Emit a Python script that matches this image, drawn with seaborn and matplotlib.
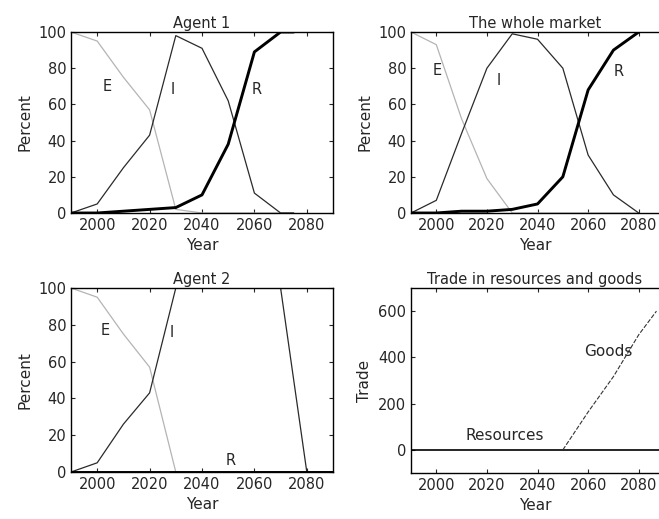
import matplotlib
matplotlib.use("Agg")
import matplotlib.pyplot as plt
import seaborn as sns
import pandas as pd

# ---------------- data ----------------
years_a1 = [1990, 2000, 2010, 2020, 2030, 2040, 2050, 2060, 2070, 2075]
a1_E = [100, 95, 75, 57, 2, 0, 0, 0, 0, 0]
a1_I = [0, 5, 25, 43, 98, 91, 62, 11, 0, 0]
a1_R = [0, 0, 1, 2, 3, 10, 38, 89, 100, 100]

years_wm = [1990, 2000, 2010, 2020, 2030, 2040, 2050, 2060, 2070, 2080]
wm_E = [100, 93, 52, 19, 0, 0, 0, 0, 0, 0]
wm_I = [0, 7, 44, 80, 99, 96, 80, 32, 10, 0]
wm_R = [0, 0, 1, 1, 2, 5, 20, 68, 90, 100]

years_a2 = [1990, 2000, 2010, 2020, 2030, 2040, 2050, 2060, 2070, 2080, 2090]
a2_E = [100, 95, 75, 57, 0, 0, 0, 0, 0, 0, 0]
a2_I = [0, 5, 26, 43, 100, 100, 100, 100, 100, 0, 0]
a2_R = [0, 0, 0, 0, 0, 0, 0, 0, 0, 0, 0]

years_res = [1990, 2000, 2010, 2020, 2030, 2040, 2050, 2060, 2070, 2080, 2090]
resources = [0, 0, 0, 0, 0, 0, 0, 0, 0, 0, 0]
years_goods = [2050, 2060, 2070, 2080, 2087]
goods = [0, 164, 317, 498, 600]

percent_ticks = [0, 20, 40, 60, 80, 100]
trade_ticks = [0, 200, 400, 600]
year_ticks = [2000, 2020, 2040, 2060, 2080]

# ---------------- style ----------------
sns.set_style("ticks")
plt.rcParams['font.family'] = ['DejaVu Sans']
plt.rcParams['font.size'] = 11

fig = plt.figure(figsize=(6.59, 5.19), dpi=100)
W, H = 659.0, 519.0

def add_axes(x0, y0, x1, y1):
    return fig.add_axes([x0 / W, 1 - y1 / H, (x1 - x0) / W, (y1 - y0) / H])

ax1 = add_axes(71, 32, 333, 213)
ax2 = add_axes(411, 32, 659, 213)
ax3 = add_axes(71, 288, 333, 472)
ax4 = add_axes(411, 288, 659, 473)

def eir(ax, years, E, I, R, title, labels, xmax):
    df = pd.DataFrame({"Year": years, "E": E, "I": I, "R": R})
    sns.lineplot(data=df, x="Year", y="E", ax=ax, color="#b4b4b4", lw=0.9)
    sns.lineplot(data=df, x="Year", y="I", ax=ax, color="#2a2a2a", lw=0.9)
    sns.lineplot(data=df, x="Year", y="R", ax=ax, color="black", lw=2.1)
    ax.set_xlim(1990, xmax)
    ax.set_ylim(0, 100)
    ax.set_yticks(percent_ticks)
    ax.set_ylabel("Percent")
    for name, (x, y) in labels.items():
        ax.text(x, y, name, ha="center", va="center", fontsize=10.5)
    ax.set_title(title, fontsize=10.5, pad=3)

eir(ax1, years_a1, a1_E, a1_I, a1_R, "Agent 1",
    {"E": (2004, 70), "I": (2029, 68), "R": (2061, 68)}, 2090)
eir(ax2, years_wm, wm_E, wm_I, wm_R, "The whole market",
    {"E": (2000.5, 79), "I": (2024.5, 73), "R": (2072, 78)}, 2088)
eir(ax3, years_a2, a2_E, a2_I, a2_R, "Agent 2",
    {"E": (2003, 77), "I": (2028.6, 76), "R": (2051, 6.5)}, 2090)

dft = pd.DataFrame({"Year": years_res, "Resources": resources})
dfg = pd.DataFrame({"Year": years_goods, "Goods": goods})
sns.lineplot(data=dft, x="Year", y="Resources", ax=ax4, color="black", lw=1.2)
sns.lineplot(data=dfg, x="Year", y="Goods", ax=ax4, color="#333333", lw=0.8,
             linestyle=(0, (4, 1.5)))
ax4.set_xlim(1990, 2088)
ax4.set_ylim(-100, 700)
ax4.set_yticks(trade_ticks)
ax4.set_ylabel("Trade")
ax4.set_title("Trade in resources and goods", fontsize=10.5, pad=3)
ax4.text(2027, 62, "Resources", ha="center", va="center", fontsize=11)
ax4.text(2068, 426, "Goods", ha="center", va="center", fontsize=11)

for ax in (ax1, ax2, ax3, ax4):
    ax.set_xticks(year_ticks)
    ax.set_xlabel("Year")
    ax.tick_params(direction="in", top=True, right=True, length=3, labelsize=10.5)
    for s in ax.spines.values():
        s.set_linewidth(1.0)
        s.set_color("black")

for ax in (ax2, ax4):
    ax.spines["right"].set_visible(False)
    ax.tick_params(right=False)

fig.savefig("out.png", dpi=100)
